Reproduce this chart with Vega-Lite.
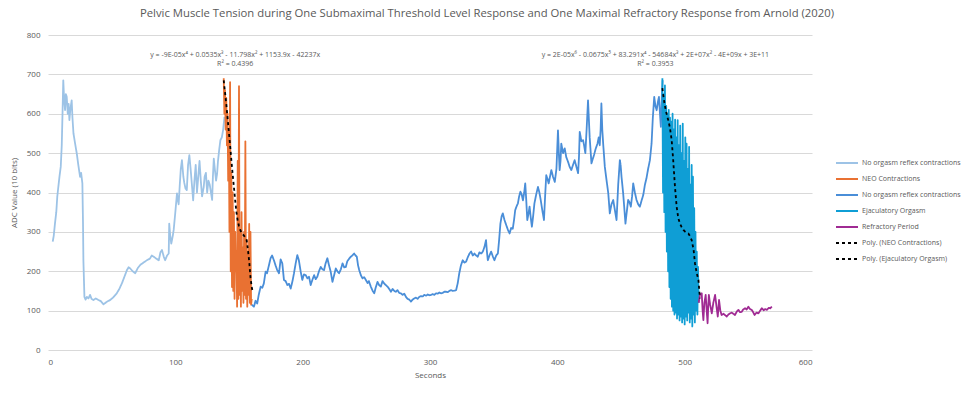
{
"$schema":"https://vega.github.io/schema/vega-lite/v6.json",
"width":764,"height":315,
"autosize":{"type":"none"},
"padding":{"left":48,"top":35,"right":163,"bottom":44},
"background":"white",
"title":{"text":"Pelvic Muscle Tension during One Submaximal Threshold Level Response and One Maximal Refractory Response from Arnold (2020)","font":"Open Sans","fontSize":11.3,"fontWeight":"normal","color":"#595959","dx":57,"offset":12},
"config":{"view":{"stroke":null},
"axis":{"domain":false,"ticks":false,"labelFont":"Open Sans","labelFontSize":8,"labelColor":"#595959","titleFont":"Open Sans","titleFontSize":8,"titleFontWeight":"normal","titleColor":"#595959","gridColor":"#d9d9d9","gridWidth":1,"labelOverlap":false},
"legend":{"labelFont":"Open Sans","labelFontSize":7,"labelColor":"#595959","symbolType":"stroke","symbolSize":484,"rowPadding":-6.7,"labelOffset":3}},
"datasets":{
"lines":[
{"s":"s1","x":3.7,"y":275},{"s":"s1","x":4.5,"y":290},{"s":"s1","x":5.5,"y":322},{"s":"s1","x":6.5,"y":350},{"s":"s1","x":7.3,"y":390},{"s":"s1","x":8.1,"y":414},{"s":"s1","x":9,"y":440},{"s":"s1","x":10,"y":465},{"s":"s1","x":10.8,"y":520},{"s":"s1","x":11.4,"y":600},{"s":"s1","x":12,"y":685},{"s":"s1","x":12.6,"y":640},{"s":"s1","x":13.4,"y":609},{"s":"s1","x":14,"y":650},{"s":"s1","x":14.7,"y":643},{"s":"s1","x":15.5,"y":600},{"s":"s1","x":16.2,"y":625},{"s":"s1","x":16.8,"y":584},{"s":"s1","x":17.5,"y":610},{"s":"s1","x":18.6,"y":634},{"s":"s1","x":19.2,"y":590},{"s":"s1","x":20,"y":550},{"s":"s1","x":21,"y":530},{"s":"s1","x":22.6,"y":499},{"s":"s1","x":23.8,"y":470},{"s":"s1","x":25.2,"y":440},{"s":"s1","x":26,"y":450},{"s":"s1","x":27,"y":423},{"s":"s1","x":27.5,"y":320},{"s":"s1","x":27.8,"y":228},{"s":"s1","x":28.6,"y":135},{"s":"s1","x":29.5,"y":128},{"s":"s1","x":30.5,"y":135},{"s":"s1","x":31.8,"y":131},{"s":"s1","x":33,"y":140},{"s":"s1","x":34.2,"y":130},{"s":"s1","x":35.7,"y":127},{"s":"s1","x":37.5,"y":131},{"s":"s1","x":39.6,"y":127},{"s":"s1","x":41.5,"y":124},{"s":"s1","x":43.6,"y":116},{"s":"s1","x":46,"y":122},{"s":"s1","x":48.8,"y":127},{"s":"s1","x":51,"y":133},{"s":"s1","x":54,"y":144},{"s":"s1","x":56,"y":155},{"s":"s1","x":58,"y":169},{"s":"s1","x":60,"y":186},{"s":"s1","x":62,"y":203},{"s":"s1","x":63.3,"y":210},{"s":"s1","x":64.6,"y":207},{"s":"s1","x":66.5,"y":200},{"s":"s1","x":68.5,"y":195},{"s":"s1","x":70.5,"y":208},{"s":"s1","x":72.4,"y":216},{"s":"s1","x":75,"y":222},{"s":"s1","x":77.7,"y":228},{"s":"s1","x":80,"y":232},{"s":"s1","x":81.5,"y":240},{"s":"s1","x":83,"y":237},{"s":"s1","x":85,"y":232},{"s":"s1","x":87,"y":228},{"s":"s1","x":88.3,"y":248},{"s":"s1","x":89.5,"y":254},{"s":"s1","x":91,"y":236},{"s":"s1","x":92,"y":228},{"s":"s1","x":93.5,"y":240},{"s":"s1","x":94.8,"y":245},{"s":"s1","x":95.2,"y":321},{"s":"s1","x":96,"y":290},{"s":"s1","x":96.8,"y":270},{"s":"s1","x":98,"y":290},{"s":"s1","x":98.7,"y":305},{"s":"s1","x":100,"y":350},{"s":"s1","x":101.3,"y":398},{"s":"s1","x":102,"y":380},{"s":"s1","x":102.6,"y":370},{"s":"s1","x":103.5,"y":420},{"s":"s1","x":104.3,"y":460},{"s":"s1","x":105.2,"y":482},{"s":"s1","x":106.3,"y":440},{"s":"s1","x":107,"y":425},{"s":"s1","x":108,"y":410},{"s":"s1","x":109,"y":406},{"s":"s1","x":110,"y":470},{"s":"s1","x":111,"y":495},{"s":"s1","x":112,"y":460},{"s":"s1","x":113,"y":420},{"s":"s1","x":114,"y":380},{"s":"s1","x":115,"y":430},{"s":"s1","x":116,"y":470},{"s":"s1","x":117,"y":400},{"s":"s1","x":118,"y":440},{"s":"s1","x":119,"y":480},{"s":"s1","x":120,"y":430},{"s":"s1","x":121,"y":390},{"s":"s1","x":122.3,"y":414},{"s":"s1","x":123,"y":440},{"s":"s1","x":124,"y":450},{"s":"s1","x":125,"y":400},{"s":"s1","x":126,"y":430},{"s":"s1","x":127,"y":420},{"s":"s1","x":128.9,"y":381},{"s":"s1","x":129.5,"y":440},{"s":"s1","x":130.2,"y":486},{"s":"s1","x":131,"y":460},{"s":"s1","x":132,"y":430},{"s":"s1","x":132.8,"y":448},{"s":"s1","x":133.5,"y":480},{"s":"s1","x":134.5,"y":510},{"s":"s1","x":135.4,"y":533},{"s":"s1","x":136.5,"y":540},{"s":"s1","x":137.5,"y":558},{"s":"s1","x":138.6,"y":592},
{"s":"s2","x":138,"y":690},{"s":"s2","x":138.5,"y":600},{"s":"s2","x":139,"y":660},{"s":"s2","x":139.5,"y":560},{"s":"s2","x":140,"y":640},{"s":"s2","x":140.5,"y":520},{"s":"s2","x":141,"y":600},{"s":"s2","x":141.5,"y":430},{"s":"s2","x":142,"y":560},{"s":"s2","x":142.5,"y":300},{"s":"s2","x":143,"y":680},{"s":"s2","x":143.5,"y":200},{"s":"s2","x":144,"y":450},{"s":"s2","x":144.5,"y":160},{"s":"s2","x":145,"y":400},{"s":"s2","x":145.5,"y":150},{"s":"s2","x":146,"y":350},{"s":"s2","x":146.5,"y":130},{"s":"s2","x":147,"y":300},{"s":"s2","x":147.5,"y":200},{"s":"s2","x":148,"y":250},{"s":"s2","x":148.5,"y":110},{"s":"s2","x":149,"y":480},{"s":"s2","x":149.5,"y":130},{"s":"s2","x":150,"y":670},{"s":"s2","x":150.5,"y":140},{"s":"s2","x":151,"y":300},{"s":"s2","x":151.5,"y":110},{"s":"s2","x":152,"y":350},{"s":"s2","x":152.5,"y":150},{"s":"s2","x":153,"y":260},{"s":"s2","x":153.5,"y":120},{"s":"s2","x":154,"y":300},{"s":"s2","x":154.5,"y":140},{"s":"s2","x":155,"y":530},{"s":"s2","x":155.5,"y":130},{"s":"s2","x":156,"y":280},{"s":"s2","x":156.5,"y":110},{"s":"s2","x":157,"y":250},{"s":"s2","x":157.5,"y":140},{"s":"s2","x":158,"y":320},{"s":"s2","x":158.5,"y":120},{"s":"s2","x":159,"y":300},{"s":"s2","x":159.5,"y":115},{"s":"s2","x":160,"y":130},
{"s":"s3","x":160,"y":115},{"s":"s3","x":161.7,"y":110},{"s":"s3","x":163,"y":125},{"s":"s3","x":164.3,"y":118},{"s":"s3","x":165.5,"y":140},{"s":"s3","x":167,"y":161},{"s":"s3","x":168.3,"y":158},{"s":"s3","x":169.5,"y":169},{"s":"s3","x":170.9,"y":199},{"s":"s3","x":172,"y":195},{"s":"s3","x":173.5,"y":215},{"s":"s3","x":174.8,"y":233},{"s":"s3","x":176,"y":240},{"s":"s3","x":177.4,"y":228},{"s":"s3","x":178.7,"y":215},{"s":"s3","x":180,"y":203},{"s":"s3","x":181.4,"y":195},{"s":"s3","x":182.7,"y":230},{"s":"s3","x":184,"y":220},{"s":"s3","x":185.3,"y":178},{"s":"s3","x":186.6,"y":175},{"s":"s3","x":188,"y":165},{"s":"s3","x":189.3,"y":168},{"s":"s3","x":190.6,"y":156},{"s":"s3","x":192,"y":175},{"s":"s3","x":193.2,"y":195},{"s":"s3","x":194.5,"y":220},{"s":"s3","x":195.8,"y":241},{"s":"s3","x":197,"y":228},{"s":"s3","x":198.4,"y":200},{"s":"s3","x":199.7,"y":178},{"s":"s3","x":201,"y":192},{"s":"s3","x":202.4,"y":190},{"s":"s3","x":203.7,"y":182},{"s":"s3","x":205,"y":186},{"s":"s3","x":206.3,"y":165},{"s":"s3","x":207.6,"y":178},{"s":"s3","x":209,"y":190},{"s":"s3","x":210.2,"y":180},{"s":"s3","x":211.5,"y":186},{"s":"s3","x":212.8,"y":200},{"s":"s3","x":214.2,"y":211},{"s":"s3","x":215.5,"y":205},{"s":"s3","x":216.8,"y":203},{"s":"s3","x":218,"y":220},{"s":"s3","x":219.4,"y":233},{"s":"s3","x":220.7,"y":215},{"s":"s3","x":222,"y":199},{"s":"s3","x":223.4,"y":173},{"s":"s3","x":224.7,"y":190},{"s":"s3","x":226,"y":207},{"s":"s3","x":227.3,"y":200},{"s":"s3","x":228.6,"y":195},{"s":"s3","x":230,"y":205},{"s":"s3","x":231.3,"y":220},{"s":"s3","x":232.6,"y":210},{"s":"s3","x":233.9,"y":211},{"s":"s3","x":235,"y":225},{"s":"s3","x":236.5,"y":232},{"s":"s3","x":237.8,"y":237},{"s":"s3","x":239,"y":240},{"s":"s3","x":240.4,"y":245},{"s":"s3","x":241.5,"y":240},{"s":"s3","x":242.5,"y":237},{"s":"s3","x":243.5,"y":215},{"s":"s3","x":244.4,"y":203},{"s":"s3","x":245.7,"y":190},{"s":"s3","x":247,"y":182},{"s":"s3","x":248.3,"y":185},{"s":"s3","x":249.6,"y":178},{"s":"s3","x":251,"y":170},{"s":"s3","x":252,"y":175},{"s":"s3","x":253.5,"y":161},{"s":"s3","x":255,"y":150},{"s":"s3","x":256.2,"y":144},{"s":"s3","x":257.5,"y":160},{"s":"s3","x":258.8,"y":173},{"s":"s3","x":260,"y":165},{"s":"s3","x":261.4,"y":161},{"s":"s3","x":262.7,"y":175},{"s":"s3","x":264,"y":169},{"s":"s3","x":265.3,"y":165},{"s":"s3","x":266.6,"y":161},{"s":"s3","x":268,"y":155},{"s":"s3","x":269.3,"y":148},{"s":"s3","x":270.6,"y":155},{"s":"s3","x":272,"y":150},{"s":"s3","x":273.2,"y":148},{"s":"s3","x":274.5,"y":152},{"s":"s3","x":275.8,"y":145},{"s":"s3","x":277.2,"y":144},{"s":"s3","x":278.5,"y":140},{"s":"s3","x":279.8,"y":143},{"s":"s3","x":281.1,"y":135},{"s":"s3","x":282.4,"y":130},{"s":"s3","x":283.7,"y":128},{"s":"s3","x":285,"y":123},{"s":"s3","x":286.3,"y":128},{"s":"s3","x":287.7,"y":131},{"s":"s3","x":289,"y":133},{"s":"s3","x":290.3,"y":130},{"s":"s3","x":291.6,"y":135},{"s":"s3","x":293,"y":137},{"s":"s3","x":294.3,"y":136},{"s":"s3","x":295.5,"y":140},{"s":"s3","x":297,"y":138},{"s":"s3","x":298.2,"y":141},{"s":"s3","x":299.5,"y":139},{"s":"s3","x":300.8,"y":140},{"s":"s3","x":302,"y":142},{"s":"s3","x":303.4,"y":140},{"s":"s3","x":304.7,"y":144},{"s":"s3","x":306,"y":143},{"s":"s3","x":307.3,"y":146},{"s":"s3","x":308.6,"y":144},{"s":"s3","x":310,"y":145},{"s":"s3","x":311.3,"y":148},{"s":"s3","x":312.6,"y":148},{"s":"s3","x":314,"y":147},{"s":"s3","x":315.2,"y":150},{"s":"s3","x":316.5,"y":152},{"s":"s3","x":318,"y":150},{"s":"s3","x":319.2,"y":151},{"s":"s3","x":320.5,"y":152},{"s":"s3","x":321.8,"y":170},{"s":"s3","x":323,"y":195},{"s":"s3","x":324.3,"y":215},{"s":"s3","x":325.7,"y":228},{"s":"s3","x":327,"y":222},{"s":"s3","x":328.3,"y":224},{"s":"s3","x":329.6,"y":235},{"s":"s3","x":331,"y":245},{"s":"s3","x":332.3,"y":250},{"s":"s3","x":333.6,"y":240},{"s":"s3","x":334.9,"y":245},{"s":"s3","x":336.2,"y":240},{"s":"s3","x":337.5,"y":237},{"s":"s3","x":338.8,"y":248},{"s":"s3","x":340.2,"y":245},{"s":"s3","x":341.5,"y":250},{"s":"s3","x":342.8,"y":262},{"s":"s3","x":344,"y":279},{"s":"s3","x":344.7,"y":250},{"s":"s3","x":345.4,"y":228},{"s":"s3","x":346.7,"y":240},{"s":"s3","x":348,"y":250},{"s":"s3","x":349.3,"y":238},{"s":"s3","x":350.6,"y":228},{"s":"s3","x":352,"y":240},{"s":"s3","x":353.3,"y":245},{"s":"s3","x":354.3,"y":280},{"s":"s3","x":355.3,"y":321},{"s":"s3","x":356.3,"y":340},{"s":"s3","x":357.2,"y":347},{"s":"s3","x":358.5,"y":330},{"s":"s3","x":359.9,"y":317},{"s":"s3","x":361.2,"y":305},{"s":"s3","x":362.5,"y":296},{"s":"s3","x":363.7,"y":310},{"s":"s3","x":365,"y":308},{"s":"s3","x":366,"y":330},{"s":"s3","x":366.9,"y":355},{"s":"s3","x":368,"y":365},{"s":"s3","x":369,"y":372},{"s":"s3","x":370,"y":390},{"s":"s3","x":371,"y":402},{"s":"s3","x":372,"y":395},{"s":"s3","x":373,"y":380},{"s":"s3","x":374,"y":400},{"s":"s3","x":374.8,"y":423},{"s":"s3","x":375.6,"y":380},{"s":"s3","x":376.4,"y":330},{"s":"s3","x":377.3,"y":345},{"s":"s3","x":378.2,"y":364},{"s":"s3","x":379,"y":340},{"s":"s3","x":380,"y":313},{"s":"s3","x":381,"y":340},{"s":"s3","x":382,"y":372},{"s":"s3","x":383.4,"y":395},{"s":"s3","x":384.8,"y":414},{"s":"s3","x":385.9,"y":400},{"s":"s3","x":387,"y":380},{"s":"s3","x":388.2,"y":355},{"s":"s3","x":389.5,"y":330},{"s":"s3","x":390.4,"y":390},{"s":"s3","x":391.3,"y":444},{"s":"s3","x":392.2,"y":435},{"s":"s3","x":393.2,"y":423},{"s":"s3","x":394.2,"y":440},{"s":"s3","x":395.3,"y":457},{"s":"s3","x":396.6,"y":440},{"s":"s3","x":398,"y":427},{"s":"s3","x":399.3,"y":460},{"s":"s3","x":400.5,"y":558},{"s":"s3","x":401.2,"y":500},{"s":"s3","x":401.8,"y":457},{"s":"s3","x":402.5,"y":480},{"s":"s3","x":403.1,"y":524},{"s":"s3","x":404.5,"y":500},{"s":"s3","x":405.8,"y":512},{"s":"s3","x":407,"y":490},{"s":"s3","x":408.4,"y":478},{"s":"s3","x":409.7,"y":465},{"s":"s3","x":411,"y":457},{"s":"s3","x":412.3,"y":470},{"s":"s3","x":413.6,"y":482},{"s":"s3","x":415,"y":465},{"s":"s3","x":416.3,"y":449},{"s":"s3","x":417,"y":490},{"s":"s3","x":417.6,"y":554},{"s":"s3","x":418.9,"y":530},{"s":"s3","x":420.2,"y":533},{"s":"s3","x":421,"y":520},{"s":"s3","x":422,"y":500},{"s":"s3","x":423,"y":560},{"s":"s3","x":424.1,"y":634},{"s":"s3","x":425.4,"y":540},{"s":"s3","x":426.8,"y":474},{"s":"s3","x":427.8,"y":485},{"s":"s3","x":428.8,"y":495},{"s":"s3","x":430,"y":510},{"s":"s3","x":431.5,"y":524},{"s":"s3","x":432.5,"y":540},{"s":"s3","x":433.3,"y":520},{"s":"s3","x":434,"y":560},{"s":"s3","x":434.6,"y":626},{"s":"s3","x":435.3,"y":560},{"s":"s3","x":436,"y":524},{"s":"s3","x":437.3,"y":465},{"s":"s3","x":438.7,"y":430},{"s":"s3","x":440,"y":398},{"s":"s3","x":441.2,"y":347},{"s":"s3","x":442.5,"y":370},{"s":"s3","x":443.9,"y":381},{"s":"s3","x":445.2,"y":355},{"s":"s3","x":446.5,"y":330},{"s":"s3","x":447.8,"y":420},{"s":"s3","x":449.1,"y":482},{"s":"s3","x":449.7,"y":470},{"s":"s3","x":450.4,"y":440},{"s":"s3","x":451.7,"y":398},{"s":"s3","x":452.6,"y":360},{"s":"s3","x":453.5,"y":321},{"s":"s3","x":454.5,"y":350},{"s":"s3","x":455.6,"y":381},{"s":"s3","x":456.7,"y":375},{"s":"s3","x":457.7,"y":364},{"s":"s3","x":458.7,"y":390},{"s":"s3","x":459.6,"y":423},{"s":"s3","x":460.9,"y":400},{"s":"s3","x":462.2,"y":381},{"s":"s3","x":463.5,"y":370},{"s":"s3","x":464.8,"y":364},{"s":"s3","x":466.2,"y":380},{"s":"s3","x":467.5,"y":394},{"s":"s3","x":468.8,"y":420},{"s":"s3","x":470,"y":436},{"s":"s3","x":471.3,"y":460},{"s":"s3","x":472.7,"y":482},{"s":"s3","x":474,"y":524},{"s":"s3","x":475,"y":590},{"s":"s3","x":476.1,"y":643},{"s":"s3","x":477,"y":620},{"s":"s3","x":478,"y":609},{"s":"s3","x":479,"y":630},{"s":"s3","x":479.8,"y":643},{"s":"s3","x":480.6,"y":600},{"s":"s3","x":481.3,"y":567},{"s":"s3","x":482,"y":640},{"s":"s3","x":482.7,"y":685},
{"s":"s4","x":482.5,"y":690},{"s":"s4","x":483,"y":400},{"s":"s4","x":483.5,"y":650},{"s":"s4","x":484,"y":350},{"s":"s4","x":484.5,"y":672},{"s":"s4","x":485,"y":300},{"s":"s4","x":485.5,"y":620},{"s":"s4","x":486,"y":250},{"s":"s4","x":486.5,"y":600},{"s":"s4","x":487,"y":200},{"s":"s4","x":487.5,"y":610},{"s":"s4","x":488,"y":160},{"s":"s4","x":488.5,"y":590},{"s":"s4","x":489,"y":130},{"s":"s4","x":489.5,"y":580},{"s":"s4","x":490,"y":110},{"s":"s4","x":490.5,"y":600},{"s":"s4","x":491,"y":100},{"s":"s4","x":491.5,"y":560},{"s":"s4","x":492,"y":90},{"s":"s4","x":492.5,"y":585},{"s":"s4","x":493,"y":95},{"s":"s4","x":493.5,"y":540},{"s":"s4","x":494,"y":80},{"s":"s4","x":494.5,"y":584},{"s":"s4","x":495,"y":90},{"s":"s4","x":495.5,"y":520},{"s":"s4","x":496,"y":75},{"s":"s4","x":496.5,"y":570},{"s":"s4","x":497,"y":85},{"s":"s4","x":497.5,"y":500},{"s":"s4","x":498,"y":70},{"s":"s4","x":498.5,"y":575},{"s":"s4","x":499,"y":80},{"s":"s4","x":499.5,"y":480},{"s":"s4","x":500,"y":65},{"s":"s4","x":500.5,"y":540},{"s":"s4","x":501,"y":85},{"s":"s4","x":501.5,"y":524},{"s":"s4","x":502,"y":75},{"s":"s4","x":502.5,"y":460},{"s":"s4","x":503,"y":95},{"s":"s4","x":503.5,"y":516},{"s":"s4","x":504,"y":70},{"s":"s4","x":504.5,"y":420},{"s":"s4","x":505,"y":80},{"s":"s4","x":505.5,"y":470},{"s":"s4","x":506,"y":60},{"s":"s4","x":506.5,"y":440},{"s":"s4","x":507,"y":90},{"s":"s4","x":507.5,"y":360},{"s":"s4","x":508,"y":70},{"s":"s4","x":508.5,"y":300},{"s":"s4","x":509,"y":100},{"s":"s4","x":509.5,"y":250},{"s":"s4","x":510,"y":90},{"s":"s4","x":510.5,"y":211},{"s":"s4","x":511,"y":120},
{"s":"s5","x":511,"y":120},{"s":"s5","x":512,"y":140},{"s":"s5","x":513.4,"y":144},{"s":"s5","x":514.1,"y":100},{"s":"s5","x":514.7,"y":76},{"s":"s5","x":515.5,"y":120},{"s":"s5","x":516.5,"y":140},{"s":"s5","x":517.3,"y":100},{"s":"s5","x":518,"y":68},{"s":"s5","x":518.5,"y":110},{"s":"s5","x":519,"y":140},{"s":"s5","x":520,"y":115},{"s":"s5","x":521.3,"y":93},{"s":"s5","x":522.5,"y":120},{"s":"s5","x":523.9,"y":140},{"s":"s5","x":525,"y":110},{"s":"s5","x":526,"y":85},{"s":"s5","x":527,"y":127},{"s":"s5","x":528,"y":100},{"s":"s5","x":529,"y":89},{"s":"s5","x":530.5,"y":92},{"s":"s5","x":532,"y":88},{"s":"s5","x":533,"y":85},{"s":"s5","x":534.3,"y":90},{"s":"s5","x":535.6,"y":93},{"s":"s5","x":537,"y":95},{"s":"s5","x":538.2,"y":92},{"s":"s5","x":539.5,"y":89},{"s":"s5","x":541,"y":98},{"s":"s5","x":542.2,"y":102},{"s":"s5","x":543.5,"y":96},{"s":"s5","x":544.8,"y":97},{"s":"s5","x":546,"y":103},{"s":"s5","x":547.4,"y":106},{"s":"s5","x":548.7,"y":103},{"s":"s5","x":550,"y":110},{"s":"s5","x":551.3,"y":104},{"s":"s5","x":552.6,"y":102},{"s":"s5","x":553.8,"y":96},{"s":"s5","x":554.9,"y":89},{"s":"s5","x":556.4,"y":95},{"s":"s5","x":557.9,"y":93},{"s":"s5","x":559.3,"y":100},{"s":"s5","x":560.6,"y":106},{"s":"s5","x":562,"y":101},{"s":"s5","x":563.3,"y":104},{"s":"s5","x":564.6,"y":102},{"s":"s5","x":566,"y":107},{"s":"s5","x":567.2,"y":106},{"s":"s5","x":568.5,"y":110}
],
"trend":[
{"s":"s6","x":138,"y":685},{"s":"s6","x":139,"y":655},{"s":"s6","x":140,"y":625},{"s":"s6","x":141,"y":590},{"s":"s6","x":142,"y":555},{"s":"s6","x":143,"y":520},{"s":"s6","x":144,"y":482},{"s":"s6","x":145,"y":447},{"s":"s6","x":146,"y":414},{"s":"s6","x":147,"y":380},{"s":"s6","x":148,"y":350},{"s":"s6","x":149,"y":328},{"s":"s6","x":150,"y":315},{"s":"s6","x":151,"y":305},{"s":"s6","x":152,"y":298},{"s":"s6","x":153,"y":294},{"s":"s6","x":154,"y":290},{"s":"s6","x":155,"y":286},{"s":"s6","x":156,"y":279},{"s":"s6","x":157,"y":255},{"s":"s6","x":158,"y":225},{"s":"s6","x":159,"y":185},{"s":"s6","x":160,"y":160},{"s":"s6","x":160.6,"y":150},
{"s":"s7","x":482.5,"y":665},{"s":"s7","x":483.5,"y":640},{"s":"s7","x":484.5,"y":620},{"s":"s7","x":485.8,"y":600},{"s":"s7","x":487,"y":585},{"s":"s7","x":488.4,"y":565},{"s":"s7","x":489.8,"y":533},{"s":"s7","x":491,"y":482},{"s":"s7","x":492.4,"y":414},{"s":"s7","x":493.7,"y":364},{"s":"s7","x":495,"y":335},{"s":"s7","x":496.3,"y":321},{"s":"s7","x":497.6,"y":312},{"s":"s7","x":499,"y":305},{"s":"s7","x":500.5,"y":300},{"s":"s7","x":502,"y":297},{"s":"s7","x":502.9,"y":296},{"s":"s7","x":504,"y":290},{"s":"s7","x":505.5,"y":279},{"s":"s7","x":507,"y":255},{"s":"s7","x":508.1,"y":220},{"s":"s7","x":509.5,"y":195},{"s":"s7","x":510.8,"y":178},{"s":"s7","x":512,"y":131}
],
"notes":[
{"x":147,"y":749,"t":"y = -9E-05x⁴ + 0.0535x³ - 11.798x² + 1153.9x - 42237x"},
{"x":147,"y":726,"t":"R² = 0.4396"},
{"x":477,"y":749,"t":"y = 2E-05x⁶ - 0.0675x⁵ + 83.291x⁴ - 54684x³ + 2E+07x² - 4E+09x + 3E+11"},
{"x":477,"y":726,"t":"R² = 0.3953"}
]},
"encoding":{
"x":{"field":"x","type":"quantitative","scale":{"domain":[0,600],"nice":false},"axis":{"title":"Seconds","values":[0,100,200,300,400,500,600],"grid":false,"labelPadding":8,"titlePadding":5}},
"y":{"field":"y","type":"quantitative","scale":{"domain":[0,800],"nice":false},"axis":{"title":"ADC Value (10 bits)","values":[0,100,200,300,400,500,600,700,800],"grid":true,"labelPadding":8,"titlePadding":8}}
},
"layer":[
{"data":{"name":"lines"},"mark":{"type":"line","strokeJoin":"round"},
"encoding":{
"color":{"field":"s","type":"nominal","scale":{"domain":["s1","s2","s3","s4","s5","s6","s7"],"range":["#9DC3E6","#E97132","#4A8ED8","#0F9ED5","#A02B93","#000000","#000000"]},
"legend":{"title":null,"orient":"none","legendX":787,"legendY":116,"labelExpr":"datum.value=='s1'||datum.value=='s3'?'No orgasm reflex contractions':datum.value=='s2'?'NEO Contractions':datum.value=='s4'?'Ejaculatory Orgasm':datum.value=='s5'?'Refractory Period':datum.value=='s6'?'Poly. (NEO Contractions)':'Poly. (Ejaculatory Orgasm)'"}},
"strokeDash":{"field":"s","type":"nominal","scale":{"domain":["s1","s2","s3","s4","s5","s6","s7"],"range":[[1,0],[1,0],[1,0],[1,0],[1,0],[3,3],[3,3]]},"legend":{"title":null,"orient":"none","legendX":787,"legendY":116,"labelExpr":"datum.value=='s1'||datum.value=='s3'?'No orgasm reflex contractions':datum.value=='s2'?'NEO Contractions':datum.value=='s4'?'Ejaculatory Orgasm':datum.value=='s5'?'Refractory Period':datum.value=='s6'?'Poly. (NEO Contractions)':'Poly. (Ejaculatory Orgasm)'"}},
"strokeWidth":{"field":"s","type":"nominal","scale":{"domain":["s1","s2","s3","s4","s5","s6","s7"],"range":[1.8,1.8,1.8,1.8,1.8,3,3]},"legend":{"title":null,"orient":"none","legendX":787,"legendY":116,"labelExpr":"datum.value=='s1'||datum.value=='s3'?'No orgasm reflex contractions':datum.value=='s2'?'NEO Contractions':datum.value=='s4'?'Ejaculatory Orgasm':datum.value=='s5'?'Refractory Period':datum.value=='s6'?'Poly. (NEO Contractions)':'Poly. (Ejaculatory Orgasm)'"}}
}},
{"data":{"name":"trend"},"mark":{"type":"line"},
"encoding":{
"color":{"field":"s","type":"nominal"},
"strokeDash":{"field":"s","type":"nominal"},
"strokeWidth":{"field":"s","type":"nominal"}
}},
{"data":{"name":"notes"},"mark":{"type":"text","font":"Open Sans","fontSize":7,"color":"#595959","align":"center","baseline":"middle"},
"encoding":{"text":{"field":"t","type":"nominal"}}}
]
}
